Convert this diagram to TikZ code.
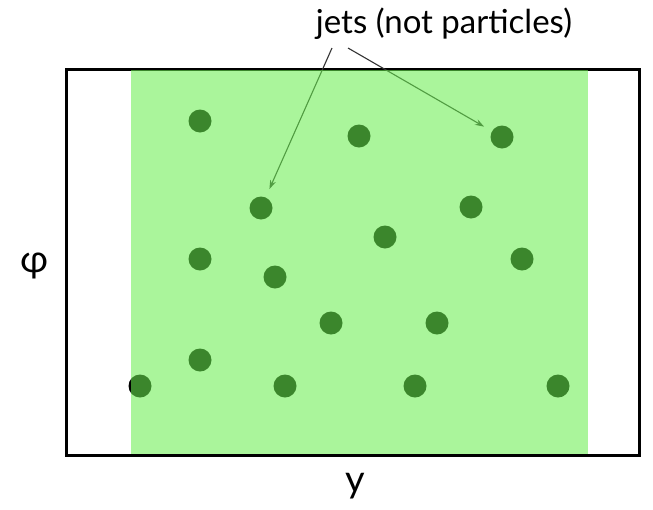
\documentclass[tikz,border=0pt]{standalone}
\usepackage{fontspec}
\setmainfont{Lato}
\usetikzlibrary{arrows.meta}
\definecolor{bandgreen}{RGB}{105,237,79}
\begin{document}
\begin{tikzpicture}[x=1pt,y=-1pt,
  dot/.style={circle,fill=black,inner sep=0pt,minimum size=23pt},
  jetarrow/.style={draw=black!80,line width=1.1pt,shorten >=9pt,-{Stealth[length=9pt,width=6pt]}},
  lbl/.style={inner sep=0pt,font=\fontsize{33}{35}\selectfont}]
\useasboundingbox (0,0) rectangle (653,509);
% frame
\node[draw=black,line width=3pt,minimum width=573pt,minimum height=386pt,inner sep=0pt] (frame) at (352.5,262) {};
% dots
\foreach \n/\x/\y in {a/200/121,b/359/136,c/502/137,d/261/208,e/471/207,f/385/237,g/200/259,h/522/259,i/275/277,j/331/323,k/437/323,l/200/360,m/140/386,n/285/386,o/415/386,p/558/386}
  \node[dot] (\n) at (\x,\y) {};
% label
\node[lbl] (jets) at (444,24) {jets (not particles)};
\coordinate (s1) at (332,48);
\coordinate (s2) at (348,48);
\draw[jetarrow] (s1) -- (d);
\draw[jetarrow] (s2) -- (c);
% green band
\fill[bandgreen,opacity=0.57] (131,70) rectangle (588,454);
% axis labels
\node[lbl,font=\fontsize{38}{40}\selectfont] (phi) at (35,266) {φ};
\node[lbl,font=\fontsize{38}{40}\selectfont] (yl) at (355,486) {y};
\end{tikzpicture}
\end{document}
